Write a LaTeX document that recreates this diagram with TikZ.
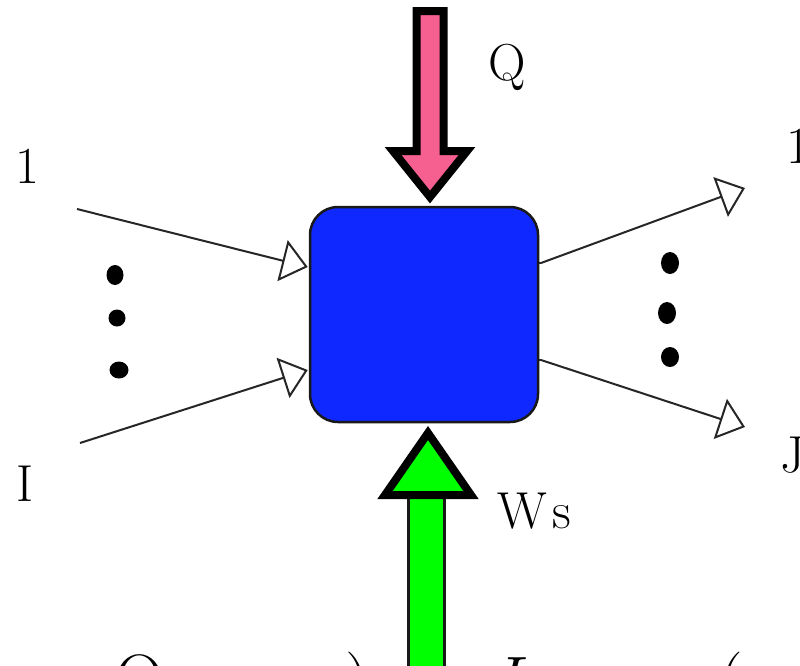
\documentclass[tikz,border=0pt]{standalone}
\usetikzlibrary{arrows.meta}
\definecolor{qpink}{RGB}{245,96,145}
\definecolor{wgreen}{RGB}{0,255,0}
\definecolor{sysblue}{RGB}{15,40,255}
\tikzset{
  lbl/.style={font=\rmfamily\fontsize{52}{60}\selectfont, inner sep=0pt, anchor=base west},
  biglbl/.style={font=\rmfamily\fontsize{70}{80}\selectfont, inner sep=0pt, anchor=base west},
  flow/.style={line width=2pt, black!85, -{Triangle[open, length=26pt, width=42pt, line width=2pt]}},
  dotmark/.style={fill=black, draw=none},
  blockarrow/.style={line width=8pt, line join=miter, miter limit=20, draw=black},
}
\begin{document}
\begin{tikzpicture}[x=1pt,y=-1pt]
\useasboundingbox (0,0) rectangle (800,665);

% system box
\node[draw=black!90, line width=2.5pt, fill=sysblue, rounded corners=28pt,
      minimum width=228pt, minimum height=215pt, inner sep=0pt] (sys) at (424,314.5) {};

% heat arrow Q
\filldraw[blockarrow, fill=qpink]
  (416.5,11) -- (443.5,11) -- (443.5,151) -- (467,151) -- (430,197) -- (393,151) -- (416.5,151) -- cycle;

% work arrow Ws
\filldraw[line width=3pt, fill=wgreen, draw=black!90] (408.5,497) rectangle (444.5,680);
\filldraw[blockarrow, fill=wgreen] (385,495) -- (471,495) -- (428,433) -- cycle;

% labels
\node[lbl] (lq) at (488,80) {Q};
\node[lbl] (lws) at (497,528) {W\kern6pt s};
\node[lbl] (lin1) at (15,183) {1};
\node[lbl] (linI) at (16,501) {I};
\node[lbl] (lout1) at (786,163) {1};
\node[lbl] (loutJ) at (780,472) {J};

% free ends of the stream lines
\coordinate (in1) at (77,209);
\coordinate (inI) at (80,443);
\coordinate (o1s) at (541,263);
\coordinate (oJs) at (541,360);
\coordinate (out1) at (745,188);
\coordinate (outJ) at (745,427);

\draw[flow] (in1) -- ([yshift=47.5pt,xshift=-1pt]sys.west);
\draw[flow] (inI) -- ([yshift=-55.5pt,xshift=-1pt]sys.west);
\draw[line width=2pt, black!85] ([yshift=51.5pt]sys.east) -- (o1s);
\draw[flow] (o1s) -- (out1);
\draw[line width=2pt, black!85] ([yshift=-45.5pt]sys.east) -- (oJs);
\draw[flow] (oJs) -- (outJ);

% ellipsis dots
\fill[dotmark] (115,275) ellipse (8.5 and 10);
\fill[dotmark] (117,318) ellipse (8.5 and 8.5);
\fill[dotmark] (119,370) ellipse (9.5 and 8.5);
\fill[dotmark] (670,263) ellipse (9 and 11);
\fill[dotmark] (667,313) ellipse (9 and 11);
\fill[dotmark] (670,357) ellipse (9 and 10);

% equation below (cut off by the frame)
\node[biglbl] (e1) at (114,703) {Q};
\node[biglbl] (e2) at (345,704) {)};
\node[biglbl] (e3) at (492,705) {\itshape I};
\node[biglbl] (e4) at (718,704) {(};
\end{tikzpicture}
\end{document}
